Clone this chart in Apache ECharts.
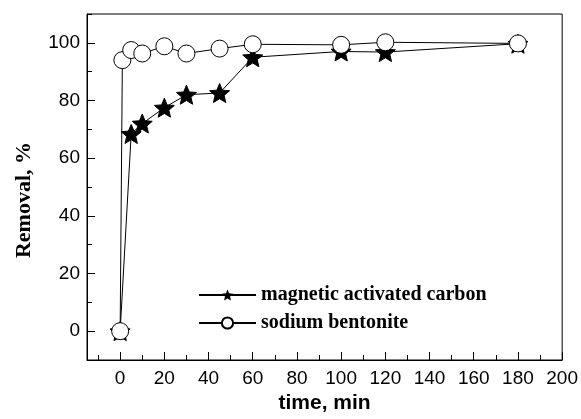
<!DOCTYPE html>
<html>
<head>
    <meta charset="utf-8">
    <title>Removal vs time</title>
    <script src="https://cdn.jsdelivr.net/npm/echarts@6/dist/echarts.min.js"></script>
    <style>
        * { margin: 0; padding: 0; }
        #view { width: 581px; height: 419px; background: #fff; }
    </style>
</head>
<body>
    <div id="view"></div>
    <script>
        // data
        var magTime = [0, 5, 10, 20, 30, 45, 60, 100, 120, 180];
        var magRemoval = [0, 68.4, 72, 77.5, 82, 82.6, 95, 97, 96.8, 99.7];
        var sodTime = [0, 1, 5, 10, 20, 30, 45, 60, 100, 120, 180];
        var sodRemoval = [0, 94, 97.5, 96.3, 98.8, 96.3, 98, 99.5, 99.3, 100.2, 99.8];
        var xLabels = [0, 20, 40, 60, 80, 100, 120, 140, 160, 180, 200];
        var xMinor = [-10, 10, 30, 50, 70, 90, 110, 130, 150, 170, 190];
        var yLabels = [0, 20, 40, 60, 80, 100];
        var yMinor = [-10, 10, 30, 50, 70, 90, 110];

        function pairs(xs, ys) {
            var out = [];
            for (var i = 0; i < xs.length; i++) out.push([xs[i], ys[i]]);
            return out;
        }

        // five point star, a bit fatter than the usual one
        var star = 'path://M0,-10 L2.645,-3.641 L9.511,-3.09 L4.28,1.391 L5.878,8.09 L0,4.5 L-5.878,8.09 L-4.28,1.391 L-9.511,-3.09 L-2.645,-3.641 Z';
        var labelFont = { color: '#000', fontFamily: 'Liberation Sans', fontSize: 19 };

        var view = echarts.init(document.getElementById('view'));
        var option = {
            animation: false,
            grid: {
                left: 87, top: 14, right: 16, bottom: 59,
                show: true, borderColor: '#000', borderWidth: 1
            },
            legend: {
                left: 193, top: 280, orient: 'vertical',
                itemWidth: 57, itemHeight: 14, itemGap: 8,
                textStyle: { color: '#000', fontFamily: 'Liberation Serif', fontWeight: 'bold', fontSize: 20 },
                data: ['magnetic activated carbon', 'sodium bentonite']
            },
            xAxis: [{
                type: 'value', min: -15, max: 200,
                name: 'time, min', nameLocation: 'middle', nameGap: 30,
                nameTextStyle: { color: '#000', fontFamily: 'Liberation Sans', fontWeight: 'bold', fontSize: 21 },
                axisLine: { onZero: false, lineStyle: { color: '#000', width: 1 } },
                axisTick: { inside: true, length: 8, customValues: xLabels, lineStyle: { color: '#000' } },
                axisLabel: Object.assign({ margin: 9, customValues: xLabels }, labelFont),
                splitLine: { show: false }
            }, {
                // minor ticks only
                type: 'value', min: -15, max: 200, position: 'bottom',
                axisLine: { show: false, onZero: false },
                axisTick: { inside: true, length: 5, customValues: xMinor, lineStyle: { color: '#000' } },
                axisLabel: { show: false },
                splitLine: { show: false }
            }],
            yAxis: [{
                type: 'value', min: -10, max: 110,
                name: 'Removal, %', nameLocation: 'middle', nameGap: 52,
                nameTextStyle: { color: '#000', fontFamily: 'Liberation Serif', fontWeight: 'bold', fontSize: 22, padding: [0, 26, 0, 0] },
                axisLine: { show: true, onZero: false, lineStyle: { color: '#000', width: 1 } },
                axisTick: { show: true, inside: true, length: 8, customValues: yLabels, lineStyle: { color: '#000' } },
                axisLabel: Object.assign({ margin: 7, customValues: yLabels }, labelFont),
                splitLine: { show: false }
            }, {
                type: 'value', min: -10, max: 110, position: 'left', offset: 0,
                axisLine: { show: false, onZero: false },
                axisTick: { show: true, inside: true, length: 5, customValues: yMinor, lineStyle: { color: '#000' } },
                axisLabel: { show: false },
                splitLine: { show: false }
            }],
            series: [{
                name: 'magnetic activated carbon',
                type: 'line',
                data: pairs(magTime, magRemoval),
                symbol: star, symbolSize: 20, symbolKeepAspect: true,
                itemStyle: { color: '#000', borderColor: '#000' },
                lineStyle: { color: '#000', width: 1 }
            }, {
                name: 'sodium bentonite',
                type: 'line',
                data: pairs(sodTime, sodRemoval),
                symbol: 'circle', symbolSize: 17,
                itemStyle: { color: '#fff', borderColor: '#000', borderWidth: 1 },
                lineStyle: { color: '#000', width: 1 }
            }]
        };
        view.setOption(option);
    </script>
</body>
</html>
